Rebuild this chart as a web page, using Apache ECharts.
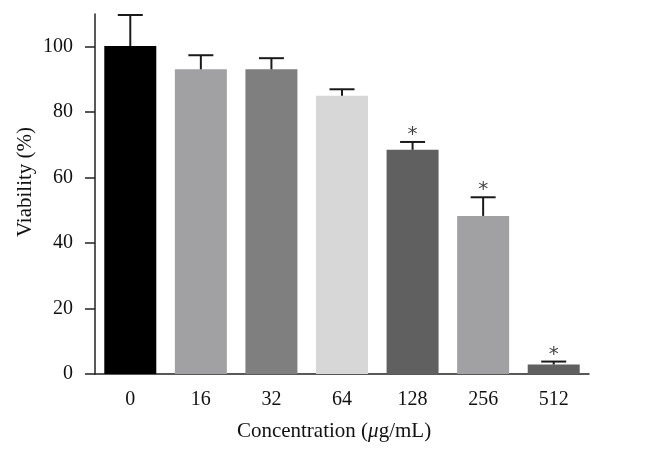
<!DOCTYPE html>
<html><head><meta charset="utf-8">
<script src="https://cdn.jsdelivr.net/npm/echarts@6/dist/echarts.min.js"></script>
<style>html,body{margin:0;padding:0;background:#fff}#c{width:649px;height:458px}</style>
</head><body><div id="c"></div>
<script>
const categories = ['0','16','32','64','128','256','512'];
const viability = [100.2, 93.1, 93.1, 85.0, 68.5, 48.3, 2.9];
const errorUpper = [109.7, 97.4, 96.5, 87.0, 70.9, 54.0, 3.8];
const significant = [false, false, false, false, true, true, true];
const barColors = ['#000000','#a1a1a3','#7f7f7f','#d7d7d7','#606060','#a1a1a3','#606060'];
const yTicks = [0, 20, 40, 60, 80, 100];

const FONT = 'Liberation Serif';
const chart = echarts.init(document.getElementById('c'), null, {renderer:'canvas'});
chart.setOption({
  animation:false,
  backgroundColor:'#fff',
  grid:{left:95, right:60, top:14, bottom:84},
  xAxis:{
    type:'category', data:categories, boundaryGap:true,
    axisLine:{lineStyle:{color:'#222', width:1.5}},
    axisTick:{alignWithLabel:true, length:10, lineStyle:{color:'#222', width:1.5}},
    axisLabel:{fontFamily:FONT, fontSize:20, color:'#111', margin:16},
    name:'Concentration ({i|\u03bc}g/mL)', nameLocation:'middle', nameGap:47,
    nameTextStyle:{fontFamily:FONT, fontSize:21, color:'#111', padding:[0,16,0,0],
      rich:{i:{fontFamily:FONT, fontSize:21, fontStyle:'italic', color:'#111'}}}
  },
  yAxis:{
    type:'value', min:0, max:110,
    splitLine:{show:false},
    axisLine:{show:true, lineStyle:{color:'#222', width:1.5}},
    axisTick:{show:true, length:10, customValues:yTicks, lineStyle:{color:'#222', width:1.5}},
    axisLabel:{fontFamily:FONT, fontSize:20, color:'#111', margin:22, customValues:yTicks},
    name:'Viability (%)', nameLocation:'middle', nameGap:59, nameMoveOverlap:false,
    nameTextStyle:{fontFamily:FONT, fontSize:21, color:'#111', padding:[0,0,0,24]}
  },
  series:[
    {
      type:'bar', barWidth:52,
      data: viability.map((v,i)=>({value:v, itemStyle:{color:barColors[i]}})),
      z:2
    },
    {
      type:'custom', z:3,
      data: viability.map((v,i)=>[i, v, errorUpper[i]]),
      renderItem:function(params, api){
        const x = api.value(0);
        const base = api.coord([x, api.value(1)]);
        const top = api.coord([x, api.value(2)]);
        const hw = 12.5;
        const st = {stroke:'#1a1a1a', lineWidth:2};
        return {type:'group', children:[
          {type:'line', shape:{x1:base[0], y1:base[1], x2:top[0], y2:top[1]}, style:st},
          {type:'line', shape:{x1:top[0]-hw, y1:top[1], x2:top[0]+hw, y2:top[1]}, style:st}
        ]};
      }
    },
    {
      type:'scatter', symbolSize:0, z:4,
      data: errorUpper.map((v,i)=>[i, v, significant[i] ? '*' : '']),
      label:{show:true, position:'top', distance:-3, formatter:p=>p.value[2],
        fontFamily:'DejaVu Sans', fontSize:20, color:'#111'}
    }
  ]
});
</script></body></html>
